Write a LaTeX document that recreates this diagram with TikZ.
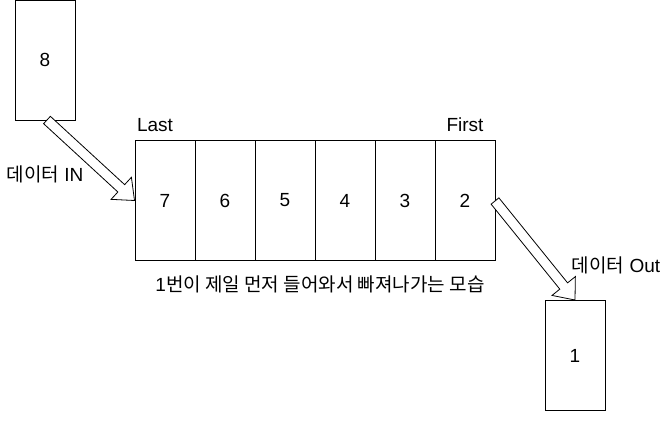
\documentclass[tikz,border=0pt]{standalone}
\usepackage{fontspec}
\setmainfont{Liberation Sans}
\newfontfamily\cjk{Noto Sans CJK KR}
\usetikzlibrary{calc}
\tikzset{
  box/.style={draw=black, line width=1pt, fill=white, inner sep=0pt, font=\fontsize{19}{22}\selectfont},
  lbl/.style={inner sep=0pt, font=\fontsize{19}{22}\selectfont},
}
\newcommand{\blockarrow}[2]{%
  \coordinate (hb) at ($(#2)!18pt!(#1)$);
  \draw[line width=0.8pt, fill=white, line join=miter]
    ($(#1)!5pt!90:(#2)$) -- ($(hb)!5pt!90:(#2)$) -- ($(hb)!15pt!90:(#2)$) -- (#2)
    -- ($(hb)!15pt!-90:(#2)$) -- ($(hb)!5pt!-90:(#2)$) -- ($(#1)!5pt!-90:(#2)$) -- cycle;
}
\begin{document}
\begin{tikzpicture}[x=1pt,y=-1pt]
\useasboundingbox (0,0) rectangle (666,421);
% input box
\node[box, minimum width=60pt, minimum height=119.5pt] (b8) at (45,60.25) {8};
% queue cells
\foreach \n/\i in {7/0,6/1,5/2,4/3,3/4,2/5}{
  \node[box, minimum width=60pt, minimum height=119.5pt] (c\n) at (165+60*\i,200.5) {\n};
}
% output box
\node[box, minimum width=60pt, minimum height=110pt] (b1) at (575,355.5) {1};
% labels
\node[lbl] (last) at (155,125) {Last};
\node[lbl] (first) at (465,125) {First};
\node[lbl] (din) at (45,174) {{\cjk 데이터} IN};
\node[lbl] (dout) at (616,265) {{\cjk 데이터} Out};
\node[lbl] (cap) at (320,284) {1{\cjk 번이 제일 먼저 들어와서 빠져나가는 모습}};
% arrows
\coordinate (a1s) at (47,120);
\coordinate (a1e) at (c7.west);
\coordinate (a2s) at (495,201);
\coordinate (a2e) at (b1.north);
\blockarrow{a1s}{a1e}
\blockarrow{a2s}{a2e}
\end{tikzpicture}
\end{document}
